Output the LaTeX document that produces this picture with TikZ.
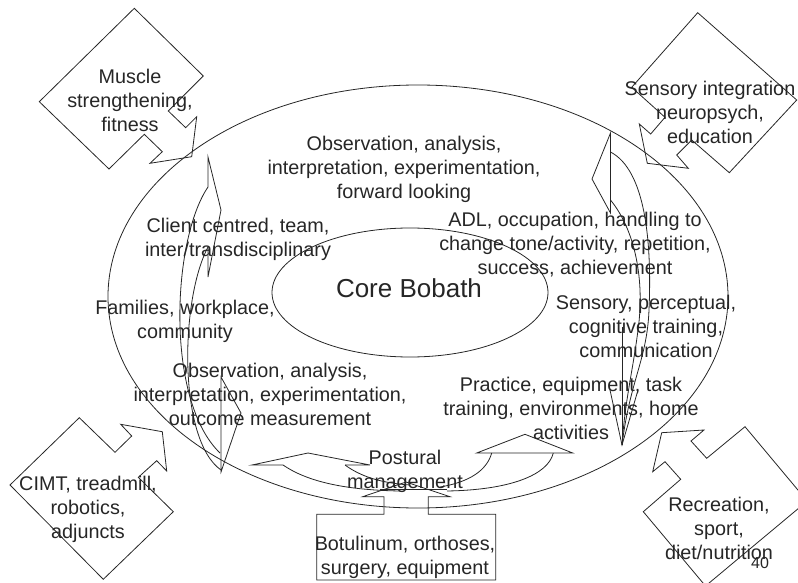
\documentclass[tikz,border=0pt]{standalone}
\usepackage{fontspec}
\setmainfont{Liberation Sans}
\begin{document}
\begin{tikzpicture}[x=1pt,y=-1pt,
  shp/.style={draw=black!85,line width=0.8pt,line join=miter},
  txt/.style={font=\fontsize{19.8}{24}\selectfont,align=center,inner sep=0pt,text=black!85}]
\useasboundingbox (0,0) rectangle (798,583);
\begin{scope}
\clip (0,0) rectangle (798,583);
% ellipses
\draw[shp] (418,296.5) ellipse [x radius=310pt, y radius=211.5pt];
\draw[shp] (410,292.5) ellipse [x radius=138pt, y radius=64.5pt];
% callout diamonds
\draw[shp] (134.3,8.3) -- (203.3,76) -- (168.3,111) -- (185.7,127.7) -- (196.7,116.7) -- (191.7,156.7) -- (150,163.3) -- (162.3,151.7) -- (144.3,134.3) -- (109,169) -- (39.3,101.7) -- cycle;
\draw[shp] (697.7,12.7) -- (796.7,100) -- (729.3,172.7) -- (691.7,140) -- (676.7,155) -- (688.3,168.3) -- (647.3,163.3) -- (639.3,124) -- (650.7,134) -- (665,117.3) -- (631.7,87.3) -- cycle;
\draw[shp] (79.3,417.7) -- (115,452.3) -- (131.7,436) -- (120.7,424.3) -- (162.3,431.7) -- (166.7,471) -- (156.7,460.7) -- (138.3,477.3) -- (173.3,511.7) -- (103.3,579.3) -- (10,485) -- cycle;
\draw[shp] (643.3,511.7) -- (680.7,479.3) -- (665,461.7) -- (652.7,471.7) -- (661.7,432.7) -- (704,430) -- (691,441) -- (706.7,458.3) -- (745,426.7) -- (807.2,501.1) -- (705.5,586) -- cycle;
% bottom box with up arrow
\draw[shp] (316.7,514.3) -- (384,514.3) -- (384,496.7) -- (362.7,496.7) -- (406,482) -- (450,496.7) -- (428.3,496.7) -- (428.3,514.3) -- (495.7,514.3) -- (495.7,580) -- (316.7,580) -- cycle;
% left curved arrows
\draw[shp] (208,187) -- (208,157) -- (221,210) -- (208,277) -- (208,247);
\draw[shp] (208,187) .. controls (172,240) and (165,400) .. (220,453);
\draw[shp] (208,247) .. controls (180,300) and (178,440) .. (221,470);
\draw[shp] (221,377) -- (221,472) -- (241,413) -- cycle;
% right curved arrows
\draw[shp] (610.5,133) -- (610.5,213) -- (592,179) -- cycle;
\draw[shp] (610.5,152) .. controls (645,170) and (652,240) .. (649,310) .. controls (647,360) and (630,380) .. (622,445);
\draw[shp] (610.5,200) .. controls (635,230) and (645,280) .. (638,330) .. controls (633,370) and (625,400) .. (622,445);
\draw[shp] (622,327) -- (622,445);
\draw[shp] (610,390) -- (622,445) -- (638,390);
% bottom curved arrows
\draw[shp] (283,465) -- (252,465) -- (308,453) -- (370,465) -- (345,465);
\draw[shp] (283,465) .. controls (305,480) and (340,490) .. (400,491);
\draw[shp] (345,465) .. controls (360,476) and (380,483) .. (410,485);
\draw[shp] (491.7,453) -- (476.7,453) -- (525,434.3) -- (572.7,453) -- (553.3,453) -- cycle;
\draw[shp] (491.7,453) .. controls (487,470) and (470,482) .. (440,487);
\draw[shp] (553.3,453) .. controls (548,475) and (510,490) .. (447,491);
\draw[shp] (380,489.5) -- (447,489.5);
\end{scope}
% texts
\node[txt] (muscle) at (130,100.5) {Muscle\\strengthening,\\fitness};
\node[txt] (sensint) at (710,112) {Sensory integration\\neuropsych,\\education};
\node[txt] (obstop) at (404,169) {Observation, analysis,\\interpretation, experimentation,\\forward looking};
\node[txt] (client) at (238,239) {Client centred, team,\\inter/transdisciplinary};
\node[txt] (adl) at (575,244.5) {ADL, occupation, handling to\\change tone/activity, repetition,\\success, achievement};
\node[txt,font=\fontsize{26}{30}\selectfont] (core) at (409,288) {Core Bobath};
\node[txt] (fam) at (185,321.5) {Families, workplace,\\community};
\node[txt] (sensp) at (646,326) {Sensory, perceptual,\\cognitive training,\\communication};
\node[txt] (obsbot) at (270,394.5) {Observation, analysis,\\interpretation, experimentation,\\outcome measurement};
\node[txt] (prac) at (571,408) {Practice, equipment, task\\training, environments, home\\activities};
\node[txt] (post) at (405,471.5) {Postural\\management};
\node[txt] (botu) at (405,557) {Botulinum, orthoses,\\surgery, equipment};
\node[txt] (cimt) at (88,509) {CIMT, treadmill,\\robotics,\\adjuncts};
\node[txt] (recr) at (719,528) {Recreation,\\sport,\\diet/nutrition};
\node[txt,font=\fontsize{16}{19}\selectfont] (pg) at (760,563) {40};
\end{tikzpicture}
\end{document}
